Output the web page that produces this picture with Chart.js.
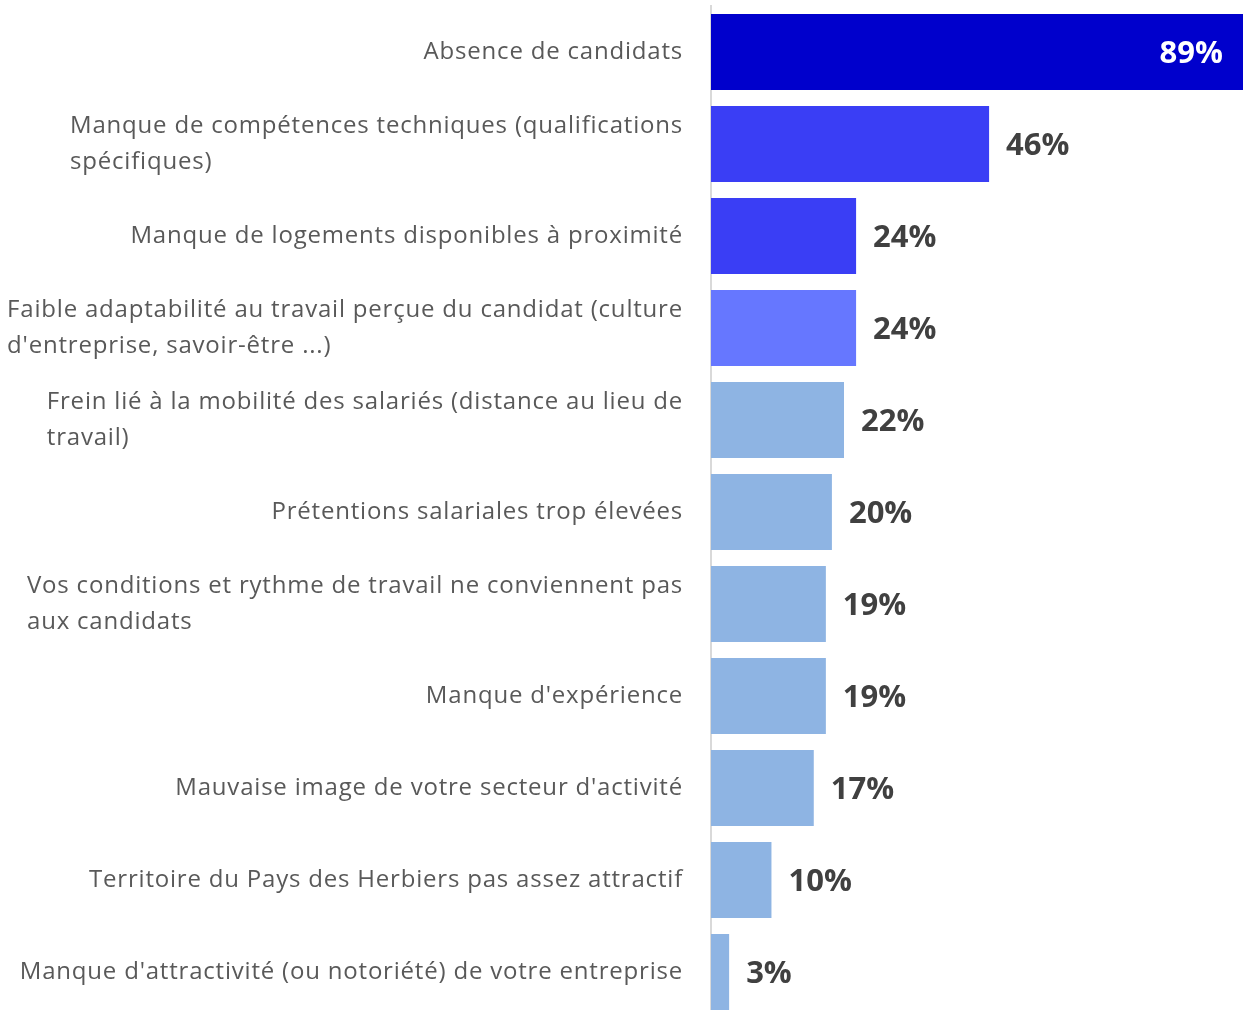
<!DOCTYPE html>
<html>
<head>
<meta charset="utf-8">
<script src="https://cdn.jsdelivr.net/npm/chart.js@4/dist/chart.umd.min.js"></script>
<style>
html,body{margin:0;padding:0;background:#fff;overflow:hidden;}
#wrap{position:relative;width:1243px;height:1018px;}
</style>
</head>
<body>
<div id="wrap"><canvas id="c"></canvas></div>
<script>
const categories = [
  ["Absence de candidats"],
  ["Manque de compétences techniques (qualifications", "spécifiques)"],
  ["Manque de logements disponibles à proximité"],
  ["Faible adaptabilité au travail perçue du candidat (culture", "d'entreprise, savoir-être ...)"],
  ["Frein lié à la mobilité des salariés (distance au lieu de", "travail)"],
  ["Prétentions salariales trop élevées"],
  ["Vos conditions et rythme de travail ne conviennent pas", "aux candidats"],
  ["Manque d'expérience"],
  ["Mauvaise image de votre secteur d'activité"],
  ["Territoire du Pays des Herbiers pas assez attractif"],
  ["Manque d'attractivité (ou notoriété) de votre entreprise"]
];
const values = [89, 46, 24, 24, 22, 20, 19, 19, 17, 10, 3];
const valueLabels = ["89%", "46%", "24%", "24%", "22%", "20%", "19%", "19%", "17%", "10%", "3%"];
const barColors = ["#0000CC", "#3A3EF5", "#3A3EF5", "#6677FF", "#8EB4E3", "#8EB4E3", "#8EB4E3", "#8EB4E3", "#8EB4E3", "#8EB4E3", "#8EB4E3"];

const FONT = "'Open Sans', sans-serif";

const labelPlugin = {
  id: 'customLabels',
  afterDraw(chart) {
    const ctx = chart.ctx;
    const ys = chart.scales.y;
    const ca = chart.chartArea;
    const meta = chart.getDatasetMeta(0);
    ctx.save();
    ctx.font = "24px " + FONT;
    ctx.letterSpacing = "0.8px";
    ctx.fillStyle = "#595959";
    ctx.textBaseline = "middle";
    ctx.textAlign = "left";
    const rightX = ca.left - 28;
    const lh = 36;
    categories.forEach((lines, i) => {
      const yc = ys.getPixelForValue(i);
      let maxW = 0;
      lines.forEach(l => { maxW = Math.max(maxW, ctx.measureText(l).width); });
      const x0 = rightX - maxW;
      lines.forEach((l, j) => {
        ctx.fillText(l, x0, yc + (j - (lines.length - 1) / 2) * lh);
      });
    });
    ctx.letterSpacing = "0px";
    ctx.font = "bold 31px " + FONT;
    meta.data.forEach((bar, i) => {
      const yc = bar.y + 2;
      if (bar.x > ca.right - 10) {
        ctx.fillStyle = "#FFFFFF";
        ctx.textAlign = "right";
        ctx.fillText(valueLabels[i], ca.right - 20, yc);
      } else {
        ctx.fillStyle = "#404040";
        ctx.textAlign = "left";
        ctx.fillText(valueLabels[i], bar.x + 17, yc);
      }
    });
    ctx.restore();
  }
};

new Chart(document.getElementById('c'), {
  type: 'bar',
  data: {
    labels: categories,
    datasets: [{
      data: values,
      backgroundColor: barColors,
      borderWidth: 0,
      categoryPercentage: 1,
      barPercentage: 0.826
    }]
  },
  options: {
    indexAxis: 'y',
    responsive: true,
    maintainAspectRatio: false,
    animation: false,
    layout: { padding: { top: 6, right: 0, bottom: 0, left: 0 } },
    plugins: { legend: { display: false }, tooltip: { enabled: false } },
    scales: {
      x: { display: false, min: 0, max: 88 },
      y: {
        display: true,
        ticks: { display: false },
        grid: { display: false, drawTicks: false },
        border: { display: true, color: "#D9D9D9", width: 2 },
        afterFit(scale) { scale.width = 711; }
      }
    }
  },
  plugins: [labelPlugin]
});
</script>
</body>
</html>
